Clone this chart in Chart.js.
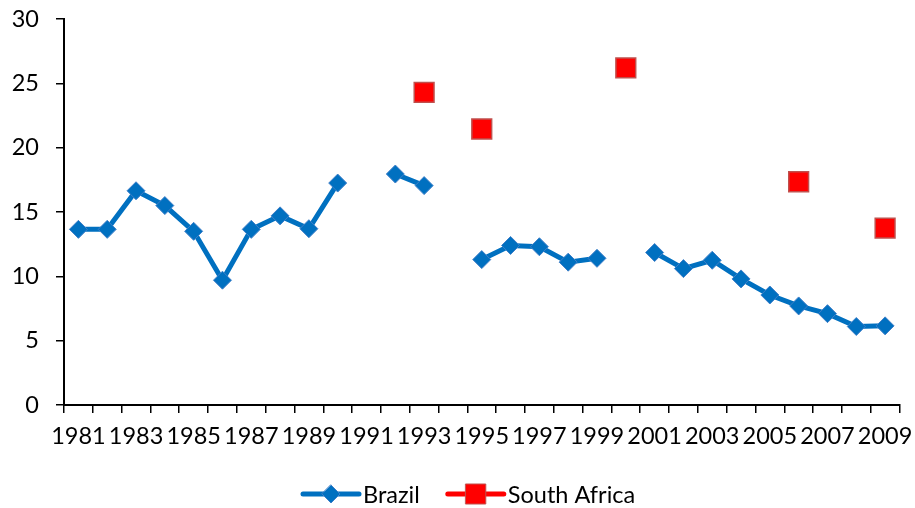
<!DOCTYPE html>
<html>
<head>
<meta charset="utf-8">
<script src="https://cdn.jsdelivr.net/npm/chart.js@4"></script>
<style>
  html, body { margin: 0; padding: 0; background: #fff; }
  #wrap { width: 915px; height: 508px; }
</style>
</head>
<body>
<div id="wrap"><canvas id="povChart"></canvas></div>
<script>
const years = [];
for (let y = 1981; y <= 2009; y++) years.push(String(y));

const brazil = [
  13.65, 13.65, 16.65, 15.5, 13.5, 9.7, 13.65, 14.7, 13.7, 17.25,
  null, 17.95, 17.05, null, 11.3, 12.4, 12.3, 11.1, 11.4, null,
  11.85, 10.6, 11.25, 9.8, 8.55, 7.7, 7.1, 6.1, 6.15
];
const southAfrica = [
  null, null, null, null, null, null, null, null, null, null,
  null, null, 24.3, null, 21.45, null, null, null, null, 26.2,
  null, null, null, null, null, 17.35, null, null, 13.75
];
const yTicks = [0, 5, 10, 15, 20, 25, 30];

const FONT = "Lato, 'Open Sans', sans-serif";
const FSIZE = 23.5;
const blue = "#0070C0";
const red = "#FF0000";

// legend with line + marker, like the spreadsheet one
const lineLegend = {
  id: "lineLegend",
  afterDraw(chart) {
    const c = chart.ctx;
    const y = 494;
    c.save();
    c.font = FSIZE + "px " + FONT;
    c.textBaseline = "middle";
    let x = 303;
    chart.data.datasets.forEach((ds) => {
      c.strokeStyle = ds.borderColor;
      c.lineWidth = 5;
      c.lineCap = "round";
      c.beginPath();
      c.moveTo(x, y);
      c.lineTo(x + 56, y);
      c.stroke();
      const mx = x + 28;
      c.fillStyle = ds.pointBackgroundColor;
      c.strokeStyle = ds.pointBorderColor;
      c.lineWidth = 1;
      c.beginPath();
      if (ds.pointStyle === "rectRot") {
        c.moveTo(mx, y - 9); c.lineTo(mx + 9, y); c.lineTo(mx, y + 9); c.lineTo(mx - 9, y);
      } else {
        c.rect(mx - 10, y - 10, 20, 20);
      }
      c.closePath();
      c.fill();
      c.stroke();
      c.fillStyle = "#000";
      c.fillText(ds.label, x + 60, y + 1);
      x += 60 + c.measureText(ds.label).width + 28;
    });
    c.restore();
  }
};

new Chart(document.getElementById("povChart"), {
  type: "line",
  data: {
    labels: years,
    datasets: [
      {
        label: "Brazil",
        data: brazil,
        borderColor: blue,
        borderWidth: 5,
        pointStyle: "rectRot",
        pointRadius: 9,
        pointBackgroundColor: blue,
        pointBorderColor: "#3F7FC8",
        pointBorderWidth: 1,
        spanGaps: false,
        tension: 0,
      },
      {
        label: "South Africa",
        data: southAfrica,
        borderColor: red,
        borderWidth: 5,
        pointStyle: "rect",
        pointRadius: 14,
        pointBackgroundColor: red,
        pointBorderColor: "#C0504D",
        pointBorderWidth: 1.5,
        spanGaps: false,
      },
    ],
  },
  options: {
    responsive: true,
    maintainAspectRatio: false,
    animation: false,
    layout: { padding: { top: 19, right: 15, bottom: 58, left: 0 } },
    plugins: {
      legend: { display: false },
      tooltip: { enabled: false },
    },
    scales: {
      x: {
        offset: true,
        grid: {
          offset: true,
          drawOnChartArea: false,
          drawTicks: true,
          tickLength: 8,
          color: "#000",
          lineWidth: 1.5,
        },
        border: { color: "#000", width: 2 },
        ticks: {
          autoSkip: false,
          maxRotation: 0,
          minRotation: 0,
          padding: 9,
          color: "#000",
          font: { family: FONT, size: FSIZE },
          callback: (v, i) => (i % 2 === 0 ? years[i] : ""),
        },
        afterFit: (scale) => {
          scale.height = 45;
          scale.paddingLeft = 0;
          scale.paddingRight = 0;
        },
      },
      y: {
        min: 0,
        max: 30,
        afterBuildTicks: (scale) => {
          scale.ticks = yTicks.map((v) => ({ value: v }));
        },
        grid: {
          drawOnChartArea: false,
          drawTicks: true,
          tickLength: 8,
          color: "#000",
          lineWidth: 1.5,
        },
        border: { color: "#000", width: 2 },
        ticks: {
          padding: 17,
          color: "#000",
          font: { family: FONT, size: FSIZE },
        },
        afterFit: (scale) => {
          scale.width = 64;
          scale.paddingTop = 0;
          scale.paddingBottom = 0;
        },
      },
    },
  },
  plugins: [lineLegend],
});
</script>
</body>
</html>
